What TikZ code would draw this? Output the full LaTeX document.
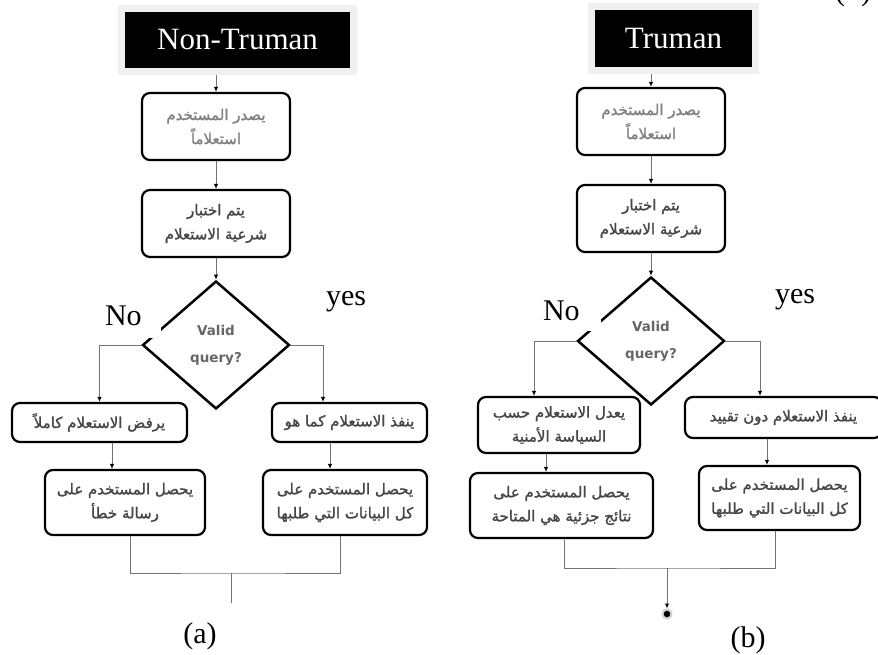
\documentclass[tikz,border=0pt]{standalone}
\usepackage{fontspec}
\setmainfont{Liberation Serif}
\newfontfamily\arabicfont[Script=Arabic,FakeBold=1.5]{DejaVu Sans}
\newfontfamily\qfont{DejaVu Sans}
\TeXXeTstate=1
\usetikzlibrary{shapes.geometric,arrows.meta,shadows}
\newcommand{\artxt}[1]{\beginR #1\endR}
\tikzset{
  box/.style={draw=black, line width=2.2pt, rounded corners=8pt, fill=white, align=center, inner sep=2pt,
    font=\arabicfont\fontsize{15}{24}\selectfont, text=black!72},
  hdr/.style={fill=black, draw=gray!12, line width=7pt, text=white, font=\fontsize{31}{36}\selectfont,
    drop shadow={shadow xshift=3pt, shadow yshift=-3pt, fill=gray!55}},
  dec/.style={diamond, draw=black, line width=2.5pt, fill=white, inner sep=0pt, align=center,
    font=\qfont\bfseries\fontsize{13.5}{27}\selectfont, text=black!60},
  lbl/.style={font=\fontsize{30}{32}\selectfont, inner sep=0pt},
  conn/.style={draw=black!55, line width=1pt, -{Latex[length=5pt,width=4.5pt,color=black]}},
  plain/.style={draw=black!55, line width=1pt}
}
\begin{document}
\begin{tikzpicture}[x=1pt,y=-1pt]
\useasboundingbox (0,0) rectangle (878,655);

% ---------------- (a) Non-Truman ----------------
\node[hdr, minimum width=232pt, minimum height=63pt] (H1) at (237.5,40) {Non-Truman};
\node[box, minimum width=148pt, minimum height=67pt, text=black!50] (A1) at (216,126.5)
  {\artxt{يصدر المستخدم}\\\artxt{استعلاماً}};
\node[box, minimum width=148pt, minimum height=67pt] (A2) at (216,223.5)
  {\artxt{يتم اختبار}\\\artxt{شرعية الاستعلام}};
\node[dec, minimum width=147pt, minimum height=128pt] (D1) at (216,345) {Valid\\query?};
\node[box, minimum width=175pt, minimum height=39pt] (A3) at (99.5,422.5)
  {\artxt{يرفض الاستعلام كاملاً}};
\node[box, minimum width=155pt, minimum height=39pt] (A4) at (349.5,422.5)
  {\artxt{ينفذ الاستعلام كما هو}};
\node[box, minimum width=160pt, minimum height=65pt] (A5) at (125,502.5)
  {\artxt{يحصل المستخدم على}\\\artxt{رسالة خطأ}};
\node[box, minimum width=164pt, minimum height=65pt] (A6) at (345,502.5)
  {\artxt{يحصل المستخدم على}\\\artxt{كل البيانات التي طلبها}};

\coordinate (ra) at (323,0);
\coordinate (xa35) at (112,0);
\coordinate (xa46) at (330,0);
\coordinate (xa1) at (130,0);
\coordinate (xa2) at (340,0);
\coordinate (ma) at (231,573);
\coordinate (ea) at (231,603);

\draw[conn] (H1.south -| A1.north) -- (A1.north);
\draw[conn] (A1) -- (A2);
\draw[conn] (A2) -- (D1);
\draw[conn] (D1.west) -| (A3.north);
\draw[conn] (D1.east) -| (A4.north -| ra);
\draw[conn] (A3.south -| xa35) -- (A5.north -| xa35);
\draw[conn] (A4.south -| xa46) -- (A6.north -| xa46);
\draw[plain] (A5.south -| xa1) |- (ma) -| (A6.south -| xa2);
\draw[plain] (ma) -- (ea);

\node[lbl, fill=white, text width=56pt, align=left, minimum height=45pt] (noa) at (133,315.5) {No};
\node[lbl] (yesa) at (346,302) {yes};
\node[lbl] (capa) at (200,636) {(a)};

% ---------------- (b) Truman ----------------
\node[hdr, minimum width=164pt, minimum height=64pt] (H2) at (673.5,38.5) {Truman};
\node[box, minimum width=148pt, minimum height=67pt, text=black!50] (B1) at (651,121.5)
  {\artxt{يصدر المستخدم}\\\artxt{استعلاماً}};
\node[box, minimum width=148pt, minimum height=67pt] (B2) at (651,218.5)
  {\artxt{يتم اختبار}\\\artxt{شرعية الاستعلام}};
\node[dec, minimum width=147pt, minimum height=128pt] (D2) at (651,341) {Valid\\query?};
\node[box, minimum width=162pt, minimum height=56pt] (B3) at (559,425)
  {\artxt{يعدل الاستعلام حسب}\\\artxt{السياسة الأمنية}};
\node[box, minimum width=197pt, minimum height=41pt] (B4) at (783.5,417.5)
  {\artxt{ينفذ الاستعلام دون تقييد}};
\node[box, minimum width=183pt, minimum height=65pt] (B5) at (561.5,505.5)
  {\artxt{يحصل المستخدم على}\\\artxt{نتائج جزئية هي المتاحة}};
\node[box, minimum width=161pt, minimum height=64pt] (B6) at (779.5,498)
  {\artxt{يحصل المستخدم على}\\\artxt{كل البيانات التي طلبها}};
\node[circle, fill=black, draw=gray!35, line width=2pt, inner sep=0pt, minimum size=9pt] (endb) at (667,614) {};

\coordinate (xb3) at (534,0);
\coordinate (xb4) at (760,0);
\coordinate (xb35) at (546,0);
\coordinate (xb46) at (767,0);
\coordinate (xb1) at (564,0);
\coordinate (xb2) at (775,0);
\coordinate (mb) at (667,568);

\draw[conn] (H2.south -| B1.north) -- (B1.north);
\draw[conn] (B1) -- (B2);
\draw[conn] (B2) -- (D2);
\draw[conn] (D2.west) -| (B3.north -| xb3);
\draw[conn] (D2.east) -| (B4.north -| xb4);
\draw[conn] (B3.south -| xb35) -- (B5.north -| xb35);
\draw[conn] (B4.south -| xb46) -- (B6.north -| xb46);
\draw[plain] (B5.south -| xb1) |- (mb) -| (B6.south -| xb2);
\draw[conn] (mb) -- (endb.north);

\node[lbl, fill=white, text width=58pt, align=left, minimum height=40pt] (nob) at (572,311) {No};
\node[lbl] (yesb) at (795,300) {yes};
\node[lbl] (capb) at (748,640) {(b)};

\node[lbl, anchor=base west] (frag) at (835,1) {(\hspace{16pt})};
\end{tikzpicture}
\end{document}
